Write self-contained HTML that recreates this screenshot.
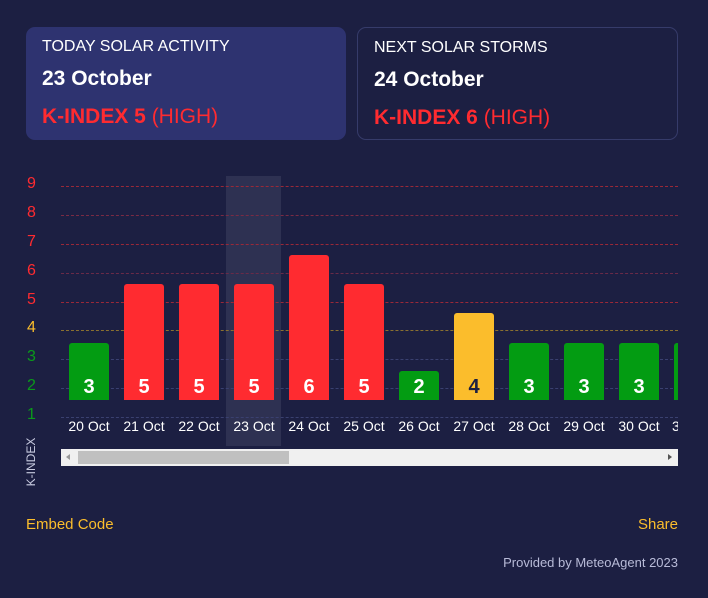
<!DOCTYPE html><html><head><style>
body{margin:0;width:708px;height:598px;background:#1c1f42;font-family:"Liberation Sans",Arial,sans-serif;position:relative;overflow:hidden}
.a{position:absolute}
.card{position:absolute;top:27px;height:113px;border-radius:9px;box-sizing:border-box}
.t{position:absolute;left:16px;top:11px;color:#fff;font-size:16px}
.d{position:absolute;left:16px;top:40px;color:#fff;font-size:21px;font-weight:bold}
.k{position:absolute;left:16px;top:78px;color:#ff2b30;font-size:21px}
.bar{position:absolute;width:40px;border-radius:3px 3px 0 0;bottom:198px;text-align:center;color:#fff;font-weight:bold;font-size:20px}
.bar span{position:absolute;left:0;right:0;bottom:1px}
.g{position:absolute;left:61px;width:617px;height:0;border-top:1px dashed}
.y{position:absolute;left:27px;font-size:16px}
.x{position:absolute;top:418px;width:60px;text-align:center;color:#fff;font-size:14px}
</style></head><body>
<div class="card" style="left:26px;width:320px;background:#2e3370"><div class="t">TODAY SOLAR ACTIVITY</div><div class="d">23 October</div><div class="k"><b>K-INDEX 5</b> (HIGH)</div></div>
<div class="card" style="left:357px;width:321px;border:1px solid #363b6a"><div class="t">NEXT SOLAR STORMS</div><div class="d">24 October</div><div class="k"><b>K-INDEX 6</b> (HIGH)</div></div>
<div class="a" style="left:226px;top:176px;width:55px;height:270px;background:#2e3152"></div>
<div class="g" style="top:186px;border-color:#9a2838"></div>
<div class="g" style="top:215px;border-color:#7a2a44"></div>
<div class="g" style="top:244px;border-color:#9a2838"></div>
<div class="g" style="top:273px;border-color:#6a2a48"></div>
<div class="g" style="top:302px;border-color:#9a2838"></div>
<div class="g" style="top:330px;border-color:#8a7030"></div>
<div class="g" style="top:359px;border-color:#3a4070"></div>
<div class="g" style="top:388px;border-color:#3a4070"></div>
<div class="g" style="top:417px;border-color:#3a4070"></div>
<div class="y" style="top:175px;color:#ff2b30">9</div>
<div class="y" style="top:204px;color:#ff2b30">8</div>
<div class="y" style="top:233px;color:#ff2b30">7</div>
<div class="y" style="top:262px;color:#ff2b30">6</div>
<div class="y" style="top:291px;color:#ff2b30">5</div>
<div class="y" style="top:319px;color:#fbbd2c">4</div>
<div class="y" style="top:348px;color:#0a9a1a">3</div>
<div class="y" style="top:377px;color:#0a9a1a">2</div>
<div class="y" style="top:406px;color:#0a9a1a">1</div>
<div class="a" style="left:678px;top:170px;width:30px;height:260px;background:#1c1f42;z-index:2"></div>
<div class="bar" style="left:69px;height:57px;background:#039c12"><span>3</span></div>
<div class="bar" style="left:124px;height:116px;background:#ff2b30"><span>5</span></div>
<div class="bar" style="left:179px;height:116px;background:#ff2b30"><span>5</span></div>
<div class="bar" style="left:234px;height:116px;background:#ff2b30"><span>5</span></div>
<div class="bar" style="left:289px;height:145px;background:#ff2b30"><span>6</span></div>
<div class="bar" style="left:344px;height:116px;background:#ff2b30"><span>5</span></div>
<div class="bar" style="left:399px;height:29px;background:#039c12"><span>2</span></div>
<div class="bar" style="left:454px;height:87px;background:#fbbd2c;color:#1c1f42"><span>4</span></div>
<div class="bar" style="left:509px;height:57px;background:#039c12"><span>3</span></div>
<div class="bar" style="left:564px;height:57px;background:#039c12"><span>3</span></div>
<div class="bar" style="left:619px;height:57px;background:#039c12"><span>3</span></div>
<div class="bar" style="left:674px;height:57px;background:#039c12"><span>3</span></div>
<div class="x" style="left:59px">20 Oct</div><div class="x" style="left:114px">21 Oct</div><div class="x" style="left:169px">22 Oct</div><div class="x" style="left:224px">23 Oct</div><div class="x" style="left:279px">24 Oct</div><div class="x" style="left:334px">25 Oct</div><div class="x" style="left:389px">26 Oct</div><div class="x" style="left:444px">27 Oct</div><div class="x" style="left:499px">28 Oct</div><div class="x" style="left:554px">29 Oct</div><div class="x" style="left:609px">30 Oct</div>
<div class="a" style="left:672px;top:418px;color:#fff;font-size:14px;width:6px;overflow:hidden;z-index:3">31</div>
<div class="a" style="left:61px;top:449px;width:617px;height:17px;background:#f0f0f0;z-index:3"></div>
<div class="a" style="left:78px;top:451px;width:211px;height:13px;background:#c0c0c0;z-index:3"></div>
<div class="a" style="left:66px;top:454px;width:0;height:0;border:3.5px solid transparent;border-right:4px solid #999;border-left:0;z-index:3"></div>
<div class="a" style="left:668px;top:454px;width:0;height:0;border:3.5px solid transparent;border-left:4px solid #555;border-right:0;z-index:3"></div>
<div class="a" style="left:2px;top:455px;color:#c8cbe0;font-size:12px;transform:rotate(-90deg);transform-origin:center;width:58px;text-align:center">K-INDEX</div>
<div class="a" style="left:26px;top:516px;color:#fbbd2c;font-size:15px">Embed Code</div>
<div class="a" style="right:30px;top:516px;color:#fbbd2c;font-size:15px">Share</div>
<div class="a" style="right:30px;top:555px;color:#b8bbd8;font-size:13px">Provided by MeteoAgent 2023</div>
</body></html>
